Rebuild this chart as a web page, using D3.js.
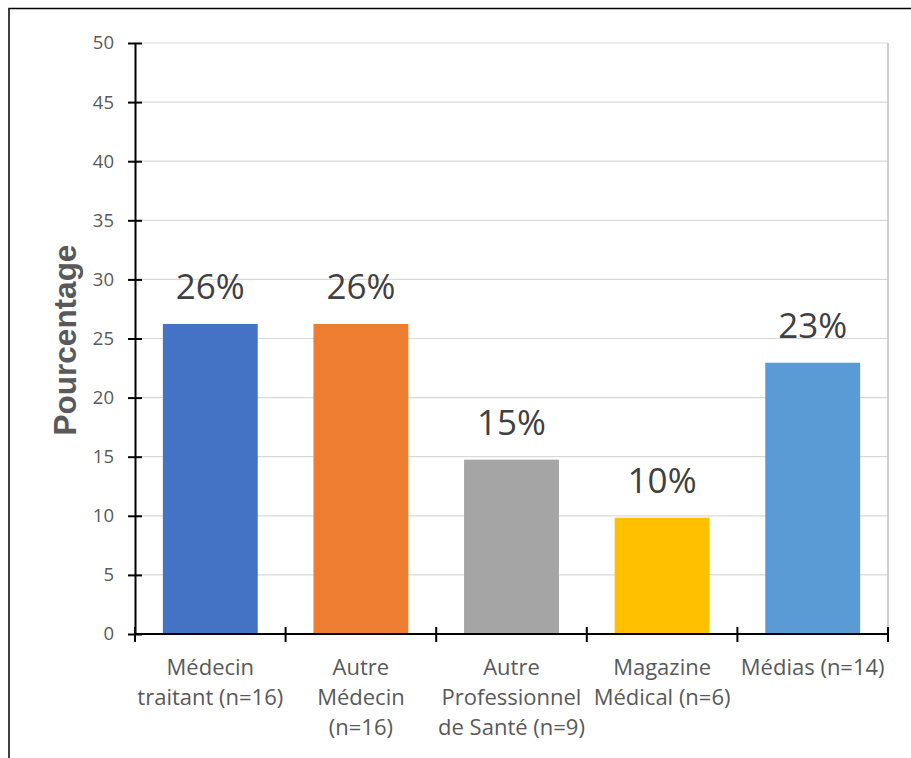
<!DOCTYPE html>
<html>
<head>
<meta charset="utf-8">
<script src="https://cdn.jsdelivr.net/npm/d3@7"></script>
<style>
  html, body { margin: 0; padding: 0; background: #fff; }
  svg { display: block; }
</style>
</head>
<body>
<script>
// Sources d'information (pourcentage des répondants)
const categories = [
  ["Médecin", "traitant (n=16)"],
  ["Autre", "Médecin", "(n=16)"],
  ["Autre", "Professionnel", "de Santé (n=9)"],
  ["Magazine", "Médical (n=6)"],
  ["Médias (n=14)"]
];
const values = [26.23, 26.23, 14.75, 9.84, 22.95];
const colors = ["#4472C4", "#ED7D31", "#A5A5A5", "#FFC000", "#5B9BD5"];
const yTicks = [0, 5, 10, 15, 20, 25, 30, 35, 40, 45, 50];
const yTitle = "Pourcentage";

const W = 911, H = 758;
const margin = { top: 43, left: 135, right: W - 888, bottom: H - 634 };
const innerW = W - margin.left - margin.right;
const innerH = H - margin.top - margin.bottom;

const svg = d3.select("body").append("svg")
  .attr("width", W).attr("height", H);

// outer frame (top and left edges)
svg.append("path")
  .attr("d", `M9,${H} V8.5 H${W}`)
  .attr("fill", "none").attr("stroke", "#000").attr("stroke-width", 1.5);

const g = svg.append("g").attr("transform", `translate(${margin.left},${margin.top})`);

const x = d3.scaleBand()
  .domain(d3.range(categories.length))
  .range([0, innerW])
  .paddingInner(0.37).paddingOuter(0.185);

const y = d3.scaleLinear().domain([0, 50]).range([innerH, 0]);

// horizontal gridlines
g.append("g").selectAll("line").data(yTicks.filter(t => t > 0)).join("line")
  .attr("x1", 0).attr("x2", innerW)
  .attr("y1", d => y(d)).attr("y2", d => y(d))
  .attr("stroke", "#D9D9D9").attr("stroke-width", 1.2);

// right edge of the plot area
g.append("line")
  .attr("x1", innerW).attr("x2", innerW)
  .attr("y1", 0).attr("y2", innerH)
  .attr("stroke", "#BFBFBF").attr("stroke-width", 1.5);

// bars
g.append("g").selectAll("rect").data(values).join("rect")
  .attr("x", (d, i) => x(i))
  .attr("width", x.bandwidth())
  .attr("y", d => y(d))
  .attr("height", d => innerH - y(d))
  .attr("fill", (d, i) => colors[i]);

// value labels
g.append("g").selectAll("text").data(values).join("text")
  .attr("x", (d, i) => x(i) + x.bandwidth() / 2)
  .attr("y", d => y(d) - 25)
  .attr("text-anchor", "middle")
  .attr("font-family", "'Open Sans', sans-serif")
  .attr("font-size", 35)
  .attr("fill", "#404040")
  .text(d => Math.round(d) + "%");

// y axis
const yAxis = g.append("g")
  .call(d3.axisLeft(y).tickValues(yTicks).tickSize(0).tickPadding(21));
yAxis.select(".domain").attr("stroke", "#000").attr("stroke-width", 2);
yAxis.selectAll(".tick text")
  .attr("font-family", "'Open Sans', sans-serif")
  .attr("font-size", 18.5)
  .attr("fill", "#595959");
yAxis.selectAll(".tick").append("line")
  .attr("x1", -7).attr("x2", 7)
  .attr("stroke", "#000").attr("stroke-width", 2);

// x axis with boundary ticks between categories
const boundaries = d3.range(categories.length + 1).map(i => i * innerW / categories.length);
g.append("line")
  .attr("x1", 0).attr("x2", innerW)
  .attr("y1", innerH).attr("y2", innerH)
  .attr("stroke", "#000").attr("stroke-width", 2);
g.append("g").selectAll("line").data(boundaries).join("line")
  .attr("x1", d => d).attr("x2", d => d)
  .attr("y1", innerH - 7).attr("y2", innerH + 8)
  .attr("stroke", "#000").attr("stroke-width", 2);

// category labels
const catLabels = g.append("g").selectAll("text").data(categories).join("text")
  .attr("text-anchor", "middle")
  .attr("font-family", "'Open Sans', sans-serif")
  .attr("font-size", 22)
  .attr("fill", "#595959")
  .attr("transform", (d, i) => `translate(${x(i) + x.bandwidth() / 2},${innerH + 41})`);
catLabels.selectAll("tspan").data(d => d).join("tspan")
  .attr("x", 0)
  .attr("y", (d, j) => j * 30)
  .text(d => d);

// y axis title
svg.append("text")
  .attr("transform", `translate(76,340) rotate(-90)`)
  .attr("text-anchor", "middle")
  .attr("font-family", "'Liberation Sans', Arial, sans-serif")
  .attr("font-weight", "bold")
  .attr("font-size", 31.5)
  .attr("fill", "#595959")
  .text(yTitle);
</script>
</body>
</html>
